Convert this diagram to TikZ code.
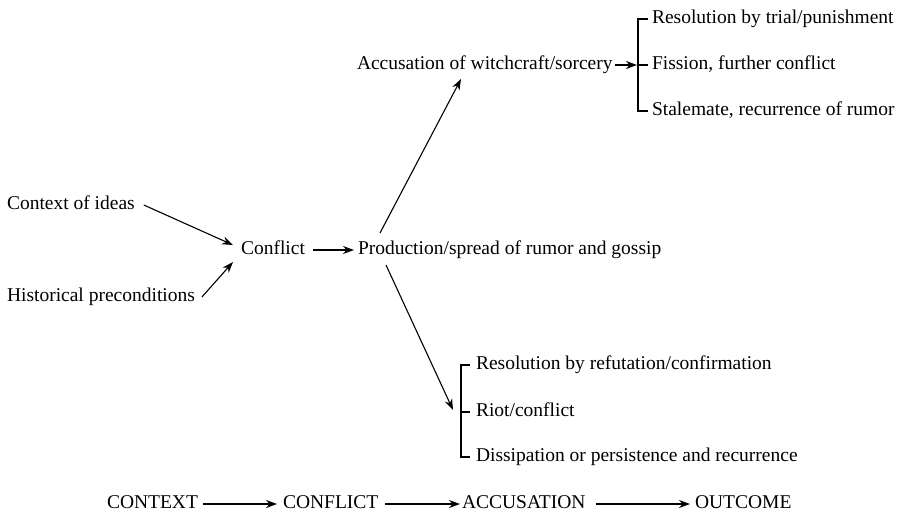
\documentclass[tikz,border=0pt]{standalone}
\usepackage{fontspec}
\setmainfont{Liberation Serif}
\usetikzlibrary{arrows.meta,calc}
\tikzset{
  lbl/.style={anchor=west, inner sep=0pt, outer sep=0pt, text height=13.5pt, text depth=4.2pt,
              font=\fontsize{19.5pt}{23pt}\selectfont},
  arr/.style={line width=1.1pt, -{Stealth[length=11pt,width=8pt]}},
  brk/.style={line width=1.2pt}
}
\begin{document}
\begin{tikzpicture}[x=1pt,y=-1pt]
\useasboundingbox (0,0) rectangle (902,514);
% left inputs
\node[lbl] (ctx)  at (7,205) {Context of ideas};
\node[lbl] (hist) at (7,297) {Historical preconditions};
\node[lbl] (conf) at (241,250) {Conflict};
\node[lbl] (prod) at (358,250) {Production/spread of rumor and gossip};
\node[lbl] (acc)  at (357,65) {Accusation of witchcraft/sorcery};
% upper outcomes
\node[lbl] (r1) at (652,19) {Resolution by trial/punishment};
\node[lbl] (r2) at (652,65) {Fission, further conflict};
\node[lbl] (r3) at (652,111) {Stalemate, recurrence of rumor};
% lower outcomes
\node[lbl] (s1) at (476,365) {Resolution by refutation/confirmation};
\node[lbl] (s2) at (476,412) {Riot/conflict};
\node[lbl] (s3) at (476,457) {Dissipation or persistence and recurrence};
% bottom row
\node[lbl] (b1) at (107,504) {CONTEXT};
\node[lbl] (b2) at (283,504) {CONFLICT};
\node[lbl] (b3) at (462,504) {ACCUSATION};
\node[lbl] (b4) at (695,504) {OUTCOME};

% connectors
\draw[arr] ($(ctx.east)+(9,0)$) -- ($(conf.west)+(-8,-5)$);
\draw[arr] ($(hist.east)+(7,0)$) -- ($(conf.west)+(-8,12)$);
\draw[arr] ($(conf.east)+(8,0)$) -- ($(prod.west)+(-4,0)$);
\draw[arr] ($(prod.west)+(22,-17)$) -- ($(acc.west)+(104,14)$);
\draw[arr] ($(prod.west)+(28,15)$) -- ($(s2.west)+(-23,-2)$);
\draw[arr] ($(acc.east)+(2,0)$) -- ($(r2.west)+(-15,0)$);

% upper bracket
\draw[brk] ($(r1.west)+(-4,0)$) -- ($(r1.west)+(-14,0)$) -- ($(r3.west)+(-14,0)$) -- ($(r3.west)+(-4,0)$);
\draw[brk] ($(r2.west)+(-4,0)$) -- ($(r2.west)+(-14,0)$);
% lower bracket
\draw[brk] ($(s1.west)+(-6,0)$) -- ($(s1.west)+(-15,0)$) -- ($(s3.west)+(-15,0)$) -- ($(s3.west)+(-6,0)$);
\draw[brk] ($(s2.west)+(-6,0)$) -- ($(s2.west)+(-15,0)$);

% bottom row arrows
\draw[arr] ($(b1.east)+(5,0)$) -- ($(b2.west)+(-6,0)$);
\draw[arr] ($(b2.east)+(7,0)$) -- ($(b3.west)+(-2,0)$);
\draw[arr] ($(b3.east)+(10,0)$) -- ($(b4.west)+(-5,0)$);
\end{tikzpicture}
\end{document}
